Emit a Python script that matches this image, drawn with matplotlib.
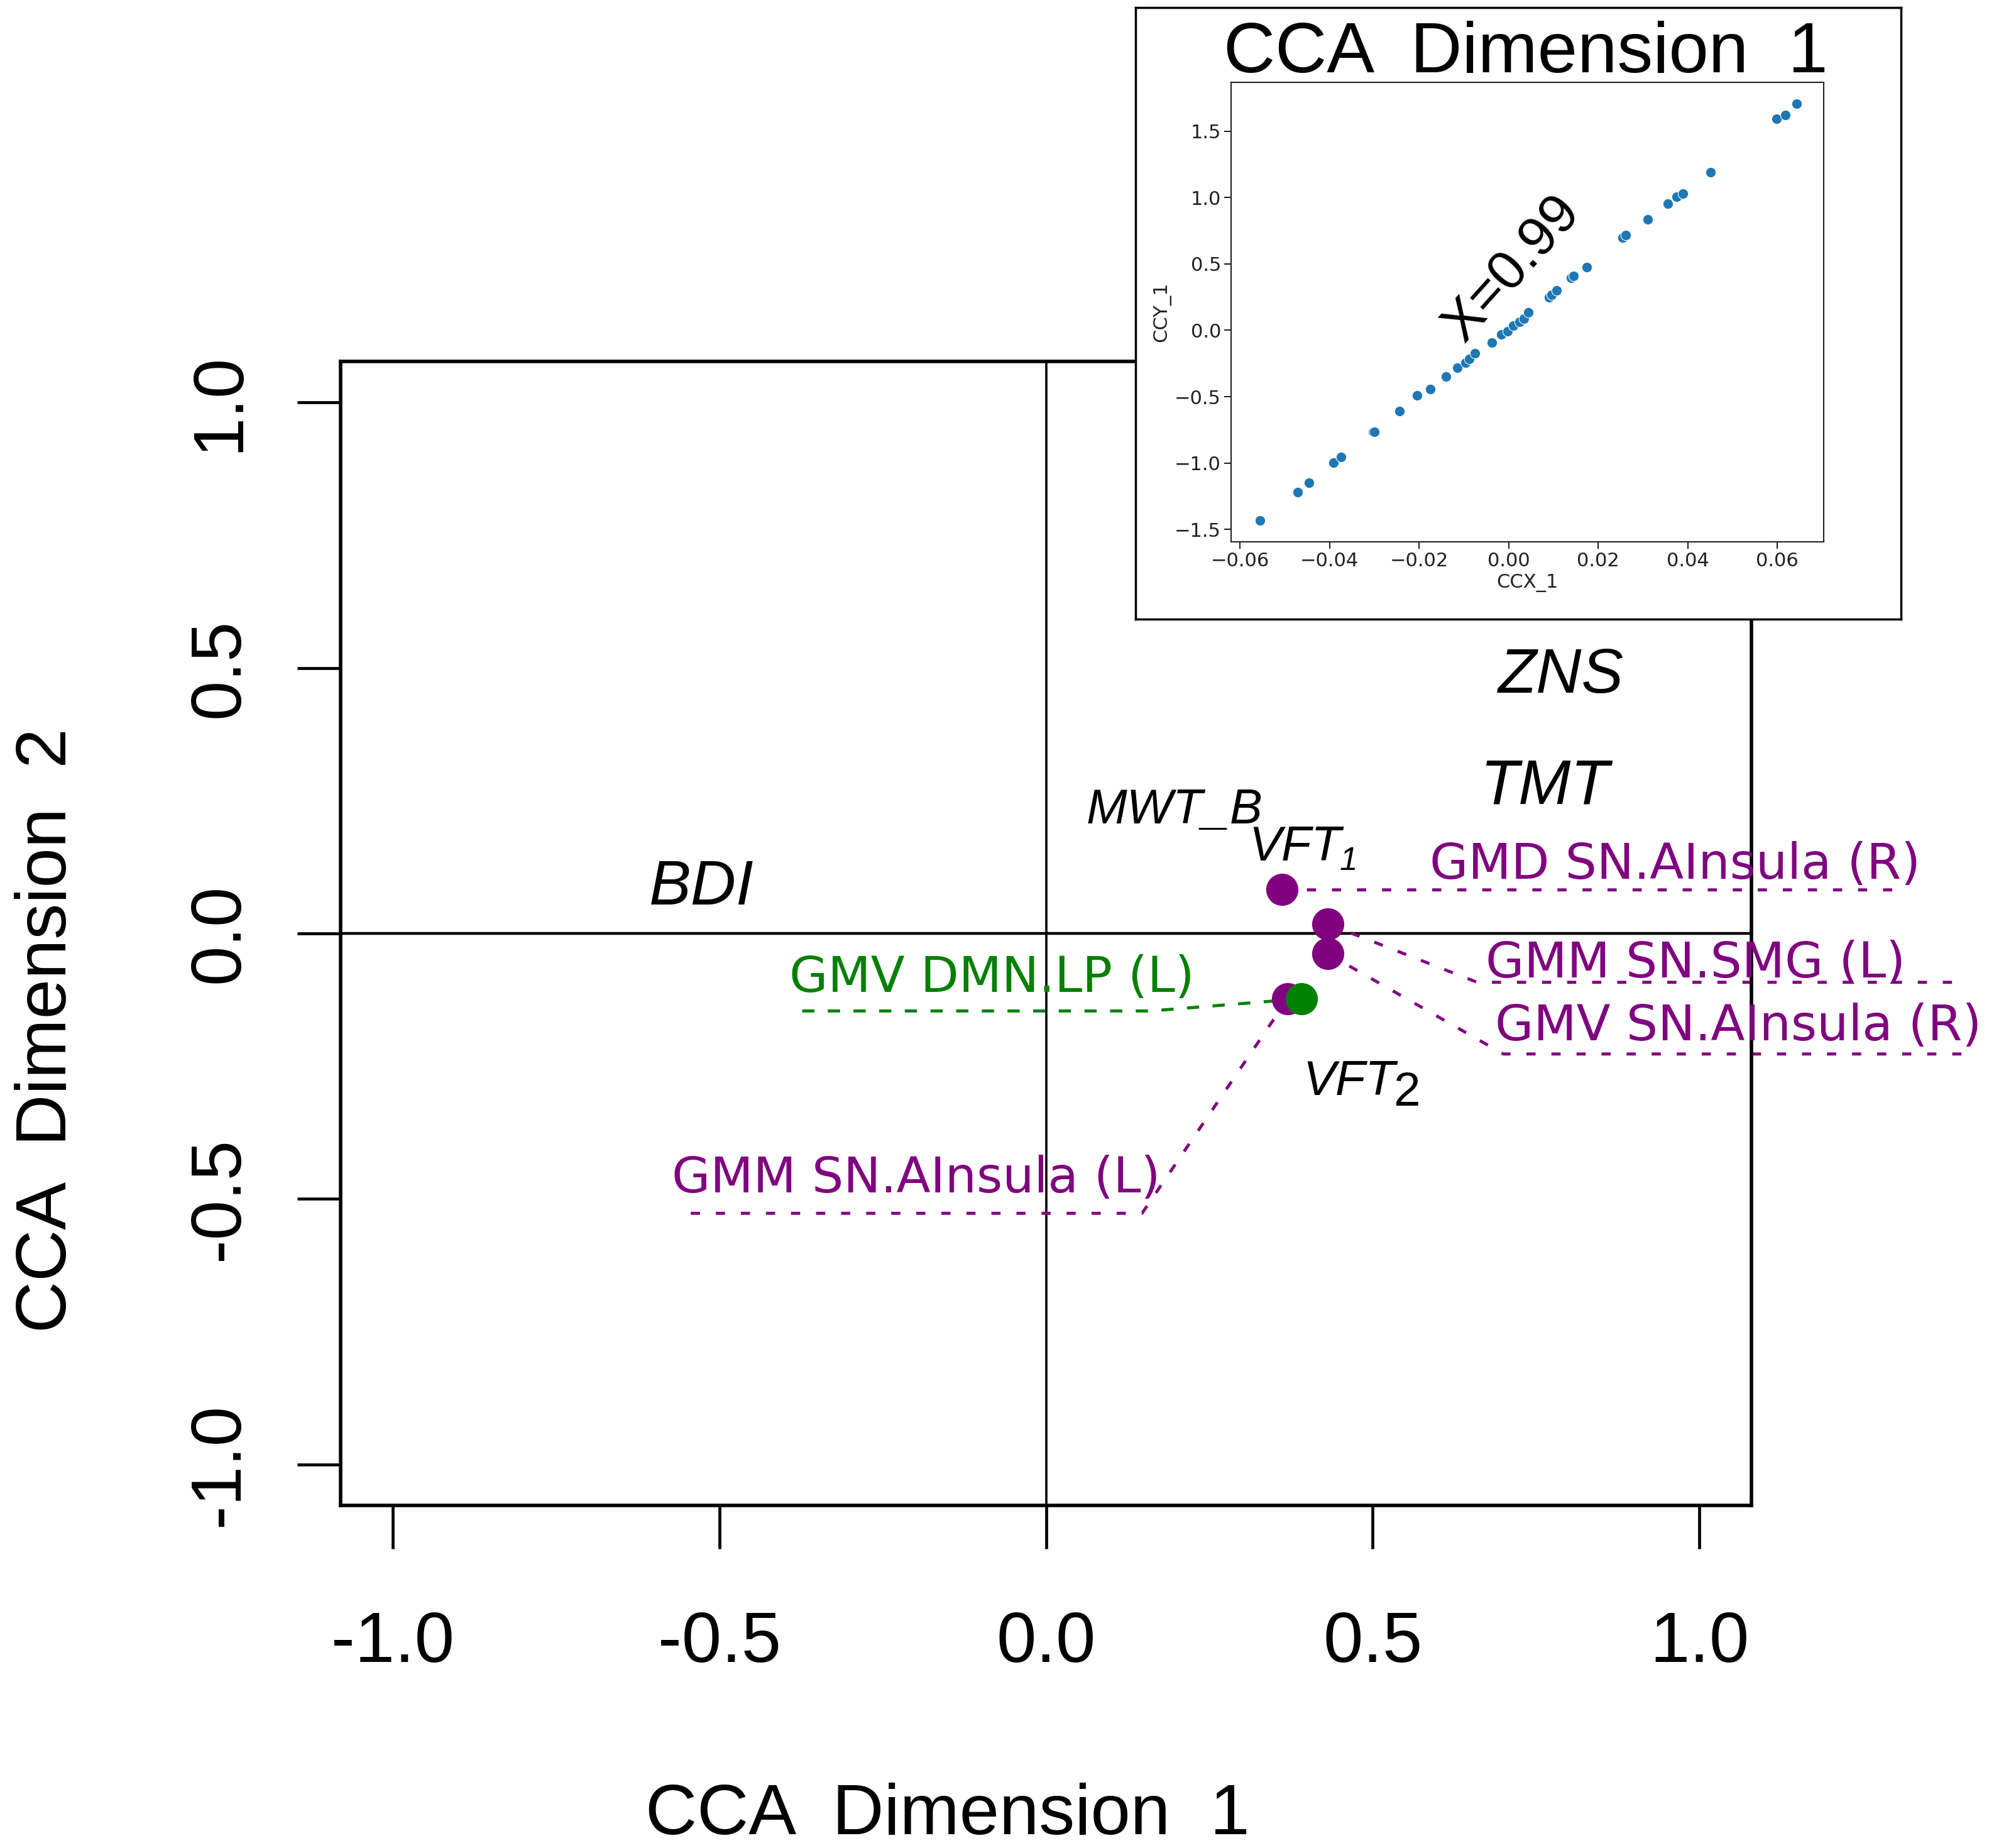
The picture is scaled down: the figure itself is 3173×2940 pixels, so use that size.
import matplotlib
matplotlib.use("Agg")
import matplotlib.pyplot as plt

plt.rcParams['font.family'] = ['Liberation Sans', 'DejaVu Sans']

# main CCA biplot
ticks = [-1.0, -0.5, 0.0, 0.5, 1.0]
tick_labels = ["-1.0", "-0.5", "0.0", "0.5", "1.0"]

# brain measures (dots) with their repelled labels
pt_x = [0.361, 0.431, 0.431, 0.370, 0.391]
pt_y = [0.083, 0.018, -0.038, -0.123, -0.123]
pt_label = ["GMD SN.AInsula (R)", "GMM SN.SMG (L)", "GMV SN.AInsula (R)",
            "GMM SN.AInsula (L)", "GMV DMN.LP (L)"]
pt_color = ["purple", "purple", "purple", "purple", "green"]
lab_x = [0.587, 0.673, 0.687, -0.573, -0.393]
lab_y = [0.103, -0.083, -0.201, -0.488, -0.110]
elbow_x = [0.393, 0.660, 0.700, 0.147, 0.160]
elbow_y = [0.082, -0.092, -0.227, -0.527, -0.146]
end_x = [1.319, 1.406, 1.413, -0.560, -0.387]

# cognitive variables (italic names)
var_names = ["BDI", "ZNS", "TMT", "MWT_B", "VFT", "VFT"]
var_x = [-0.527, 0.788, 0.763, 0.197, 0.381, 0.464]
var_y = [0.054, 0.453, 0.244, 0.207, 0.137, -0.304]
var_size = [72, 72, 72, 56, 56, 56]
sub_text = ["1", "2"]
sub_x = [0.449, 0.532]
sub_y = [0.120, -0.324]

# inset: canonical variates of dimension 1
ccx = [-0.0556, -0.0471, -0.0446, -0.0391, -0.0374, -0.0303, -0.0300, -0.0244,
       -0.0205, -0.0175, -0.0140, -0.0114, -0.0097, -0.0088, -0.0075, -0.0038,
       -0.0016, -0.0002, 0.0010, 0.0024, 0.0034, 0.0044, 0.0090, 0.0096,
       0.0107, 0.0140, 0.0145, 0.0175, 0.0255, 0.0262, 0.0311, 0.0356,
       0.0376, 0.0390, 0.0451, 0.0599, 0.0619, 0.0643]
ccy = [-1.431, -1.220, -1.150, -0.999, -0.954, -0.767, -0.767, -0.607,
       -0.492, -0.441, -0.350, -0.284, -0.245, -0.214, -0.175, -0.094,
       -0.033, -0.009, 0.036, 0.063, 0.087, 0.133, 0.247, 0.268,
       0.302, 0.395, 0.410, 0.474, 0.700, 0.718, 0.836, 0.954,
       1.008, 1.032, 1.192, 1.594, 1.624, 1.708]
r_text = "X=0.99"

fig = plt.figure(figsize=(31.73, 29.40), dpi=100)
ax = fig.add_axes([0.1708, 0.1854, 0.7076, 0.619])
ax.set_xlim(-1.08, 1.08)
ax.set_ylim(-1.077, 1.077)
for s in ax.spines.values():
    s.set_linewidth(4)
ax.axhline(0, color="black", lw=3.2, zorder=1)
ax.axvline(0, color="black", lw=2.6, zorder=1)

ax.set_xticks(ticks)
ax.set_xticklabels(tick_labels, fontsize=82)
ax.set_yticks(ticks)
ax.set_yticklabels(tick_labels, fontsize=82, rotation=90, va="center")
ax.tick_params(axis="both", direction="out", length=50, width=3.4)
ax.tick_params(axis="x", pad=70)
ax.tick_params(axis="y", pad=50)

dash_style = {"purple": (0, (3.0, 5.2)), "green": (0, (4.0, 4.4))}
for i in range(len(pt_x)):
    c = pt_color[i]
    ax.plot([pt_x[i], elbow_x[i], end_x[i]], [pt_y[i], elbow_y[i], elbow_y[i]],
            color=c, lw=3.5, linestyle=dash_style[c], clip_on=False, zorder=2)
    ax.text(lab_x[i], lab_y[i], pt_label[i], color=c, fontsize=57,
            family="DejaVu Sans", ha="left", va="baseline", clip_on=False)

for i in range(len(pt_x)):
    c = pt_color[i]
    ax.scatter(pt_x[i], pt_y[i], s=1250, color=c, edgecolor=c, lw=1.5,
               zorder=4 if c == "green" else 3, clip_on=False)

for i in range(len(var_names)):
    ax.text(var_x[i], var_y[i], var_names[i], fontsize=var_size[i],
            style="italic", ha="center", va="baseline")
ax.text(sub_x[0], sub_y[0], sub_text[0], fontsize=37, style="italic",
        ha="left", va="baseline")
ax.text(sub_x[1], sub_y[1], sub_text[1], fontsize=55, ha="left", va="baseline")

fig.text(0.4753, 0.0075, "CCA  Dimension  1", fontsize=82,
         ha="center", va="baseline")
fig.text(0.0331, 0.4425, "CCA  Dimension  2", fontsize=82, rotation=90,
         rotation_mode="anchor", ha="center", va="baseline")

# inset frame
frame = fig.add_axes([0.5695, 0.665, 0.3839, 0.331])
frame.set_xticks([])
frame.set_yticks([])
frame.set_facecolor("white")
for s in frame.spines.values():
    s.set_linewidth(2.5)
fig.text(0.765, 1 - 115 / 2940, "CCA  Dimension  1", fontsize=82,
         ha="center", va="baseline")

inset = fig.add_axes([0.6174, 0.7068, 0.2972, 0.2486])
inset.scatter(ccx, ccy, s=140, color="#1f77b4", edgecolor="white", lw=0.8)
inset.set_xlim(-0.062, 0.0704)
inset.set_ylim(-1.594, 1.868)
inset.set_xticks([-0.06, -0.04, -0.02, 0.0, 0.02, 0.04, 0.06])
inset.set_yticks([-1.5, -1.0, -0.5, 0.0, 0.5, 1.0, 1.5])
inset.tick_params(labelsize=22, length=8, width=1.5, colors="#222222")
for lab in inset.get_xticklabels() + inset.get_yticklabels():
    lab.set_family("DejaVu Sans")
for s in inset.spines.values():
    s.set_linewidth(1.5)
    s.set_color("#222222")
inset.set_xlabel("CCX_1", fontsize=22, family="DejaVu Sans", color="#222222")
inset.set_ylabel("CCY_1", fontsize=22, family="DejaVu Sans", color="#222222")
inset.text(0.474, 0.593, r_text, transform=inset.transAxes, fontsize=63,
           rotation=48, rotation_mode="anchor", ha="center", va="center")

fig.savefig("out.png", dpi=100)
